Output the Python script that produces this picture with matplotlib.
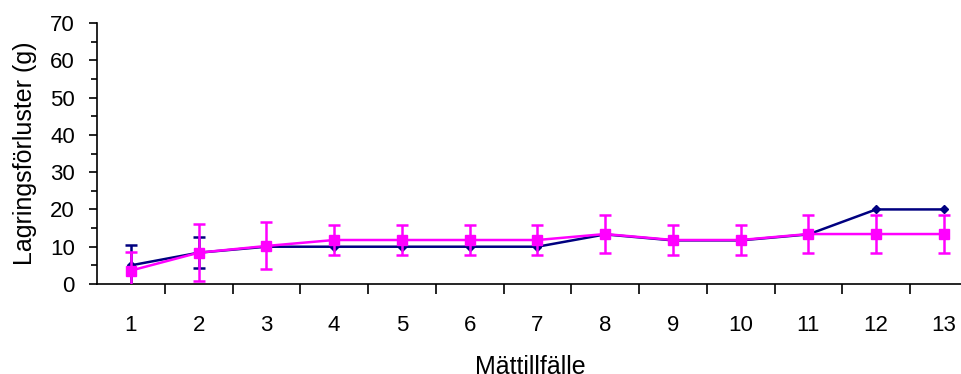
import numpy as np
import matplotlib.pyplot as plt

plt.rcParams['font.family'] = ['Liberation Sans', 'DejaVu Sans']

# Data
occasions = [str(i) for i in range(1, 14)]
series_a = [5.0, 8.4, 10.0, 10.0, 10.0, 10.0, 10.0, 13.3, 11.7, 11.7, 13.3, 20.0, 20.0]
series_a_err = [5.5, 4.2, 0, 0, 0, 0, 0, 0, 0, 0, 0, 0, 0]
series_b = [3.6, 8.4, 10.2, 11.8, 11.8, 11.8, 11.8, 13.4, 11.8, 11.8, 13.4, 13.4, 13.4]
series_b_err = [5.0, 7.6, 6.3, 4.0, 4.0, 4.0, 4.0, 5.2, 4.0, 4.0, 5.2, 5.2, 5.2]

navy = '#000080'
magenta = '#FF00FF'

fig = plt.figure(figsize=(9.61, 3.74), dpi=100)
ax = fig.add_axes([97 / 961, 1 - 284 / 374, 880.75 / 961, 261 / 374])

x = np.arange(1, len(occasions) + 1)

# series A (navy, diamonds)
ax.plot(x, series_a, color=navy, linewidth=1.8, marker='D', markersize=4, zorder=2)
a_err = np.array(series_a_err)
mask = a_err > 0
ax.errorbar(x[mask], np.array(series_a)[mask], yerr=a_err[mask], fmt='none',
            ecolor=navy, elinewidth=1.8, capsize=4.5, capthick=1.8, zorder=2)

# series B (magenta, squares)
ax.errorbar(x, series_b, yerr=series_b_err, color=magenta, linewidth=1.8,
            marker='s', markersize=7, ecolor=magenta, elinewidth=1.8,
            capsize=4.5, capthick=1.8, zorder=3)

ax.set_xlim(0.5, len(occasions) + 0.5)
ax.set_ylim(0, 70)
ax.set_yticks(np.arange(0, 71, 10))
ax.set_yticks(np.arange(5, 70, 10), minor=True)
ax.set_xticks(x)
ax.set_xticklabels(occasions)
ax.set_xticks(np.arange(1.5, len(occasions) + 0.5, 1), minor=True)

ax.tick_params(axis='x', which='major', length=0, pad=22, labelsize=16)
ax.tick_params(axis='x', which='minor', length=7, width=1.2, direction='out')
ax.tick_params(axis='y', which='major', length=6, width=1.2, labelsize=16, pad=10)
ax.tick_params(axis='y', which='minor', length=4, width=1.2)

ax.spines['top'].set_visible(False)
ax.spines['right'].set_visible(False)
ax.spines['left'].set_linewidth(1.2)
ax.spines['bottom'].set_linewidth(1.2)

ax.set_ylabel('Lagringsförluster (g)', fontsize=18, labelpad=9)
ax.set_xlabel('Mättillfälle', fontsize=18, labelpad=14)
ax.xaxis.label.set_x(0.492)

fig.savefig('out.png', dpi=100)
